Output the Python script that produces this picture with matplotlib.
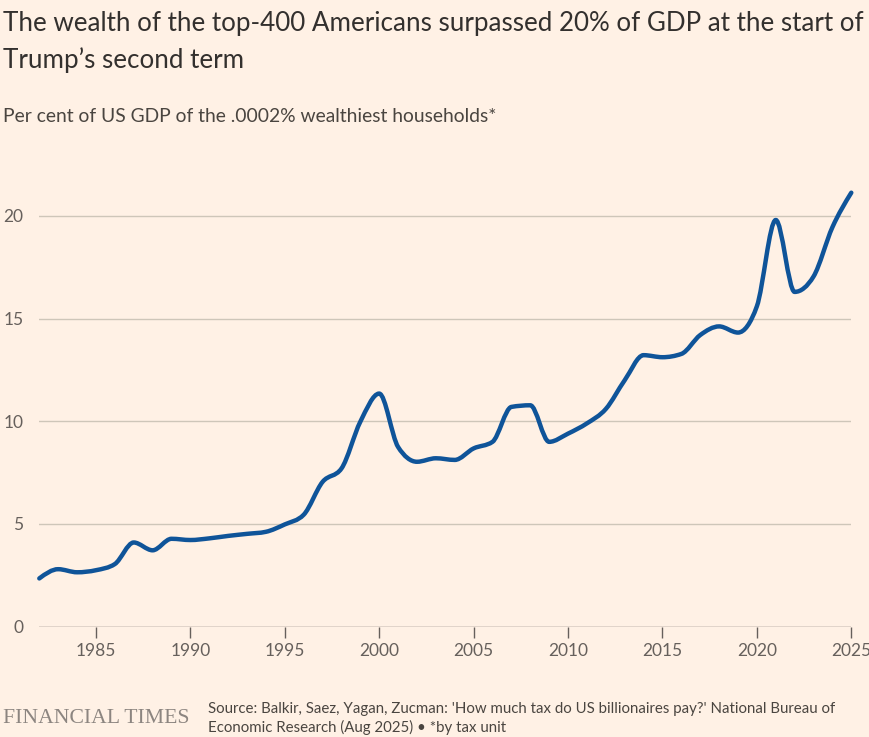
import numpy as np
import matplotlib
matplotlib.use("Agg")
import matplotlib.pyplot as plt
from matplotlib.path import Path
from matplotlib.patches import PathPatch

# Data: wealth of top-400 as % of US GDP
years = list(range(1982, 2026))
share = [2.35, 2.8, 2.65, 2.75, 3.05, 4.1, 3.72, 4.28, 4.22, 4.3,
         4.42, 4.52, 4.62, 4.98, 5.45, 7.05, 7.7, 9.98, 11.35, 8.75,
         8.03, 8.2, 8.12, 8.68, 9.0, 10.7, 10.78, 9.0, 9.4, 9.9,
         10.6, 12.0, 13.22, 13.12, 13.28, 14.2, 14.62, 14.32, 15.6, 19.8,
         16.3, 17.05, 19.45, 21.13]
xticks = [1985, 1990, 1995, 2000, 2005, 2010, 2015, 2020, 2025]
yticks = [0, 5, 10, 15, 20]

BG = "#FFF1E5"
LINE = "#0F5499"
TXT = "#33302E"
GREY = "#66605C"

plt.rcParams["font.family"] = ["Lato", "DejaVu Sans"]

W, H = 870, 737
fig = plt.figure(figsize=(W / 100, H / 100), dpi=100, facecolor=BG)

# axes placed in pixel coords
x0, x1 = 39.3, 851.3
y0 = 626.7
ymax = 22
ppu = 20.54
ax = fig.add_axes([x0 / W, (H - y0) / H, (x1 - x0) / W, ymax * ppu / H])
ax.set_facecolor(BG)
ax.set_xlim(1982, 2025)
ax.set_ylim(0, ymax)


# monotone-x curve through the points (like d3.curveMonotoneX)
def monotone_path(xs, ys):
    xs = np.asarray(xs, float)
    ys = np.asarray(ys, float)
    h = np.diff(xs)
    s = np.diff(ys) / h
    n = len(xs)
    m = np.zeros(n)
    for i in range(1, n - 1):
        p = (s[i - 1] * h[i] + s[i] * h[i - 1]) / (h[i - 1] + h[i])
        m[i] = (np.sign(s[i - 1]) + np.sign(s[i])) * min(abs(s[i - 1]), abs(s[i]), 0.5 * abs(p))
    m[0] = (3 * s[0] - m[1]) / 2
    m[-1] = (3 * s[-1] - m[-2]) / 2
    verts = [(xs[0], ys[0])]
    codes = [Path.MOVETO]
    for i in range(n - 1):
        d = h[i] / 3
        verts += [(xs[i] + d, ys[i] + m[i] * d),
                  (xs[i + 1] - d, ys[i + 1] - m[i + 1] * d),
                  (xs[i + 1], ys[i + 1])]
        codes += [Path.CURVE4] * 3
    return Path(verts, codes)


for yv in yticks[1:]:
    ax.axhline(yv, color="#CEC6B9", lw=1, zorder=1)
ax.axhline(0, color=GREY, lw=1, zorder=2)

patch = PathPatch(monotone_path(years, share), facecolor="none", edgecolor=LINE,
                  lw=3.2, capstyle="round", joinstyle="round", zorder=3, clip_on=False)
ax.add_patch(patch)

for s in ax.spines.values():
    s.set_visible(False)

ax.set_xticks(xticks)
ax.set_xticklabels([str(x) for x in xticks])
ax.tick_params(axis="x", length=8, width=1, color=GREY, labelsize=12.5,
               labelcolor=GREY, pad=4)
ax.set_yticks(yticks)
ax.set_yticklabels([str(y) for y in yticks])
ax.tick_params(axis="y", length=0, labelsize=12.5, labelcolor=GREY, pad=11.5)
for lab in ax.get_yticklabels():
    lab.set_verticalalignment("center_baseline")

# titles
fig.text(3 / W, 1 - 31 / H, "The wealth of the top-400 Americans surpassed 20% of GDP at the start of",
         ha="left", va="baseline", fontsize=18.7, color=TXT)
fig.text(3 / W, 1 - 68 / H, "Trump\u2019s second term",
         ha="left", va="baseline", fontsize=18.7, color=TXT)
fig.text(3 / W, 1 - 122.5 / H, "Per cent of US GDP of the .0002% wealthiest households*",
         ha="left", va="baseline", fontsize=13.9, color="#4A4540")

# footer
fig.text(3 / W, 1 - 723 / H, "FINANCIAL TIMES", ha="left", va="baseline",
         fontsize=15.6, color="#8C8580", family="Liberation Serif")
fig.text(208 / W, 1 - 713 / H,
         "Source: Balkir, Saez, Yagan, Zucman: 'How much tax do US billionaires pay?' National Bureau of",
         ha="left", va="baseline", fontsize=10.8, color="#4A4540")
fig.text(208 / W, 1 - 732 / H, "Economic Research (Aug 2025) \u2022 *by tax unit",
         ha="left", va="baseline", fontsize=10.8, color="#4A4540")

fig.savefig("out.png", dpi=100, facecolor=BG)
